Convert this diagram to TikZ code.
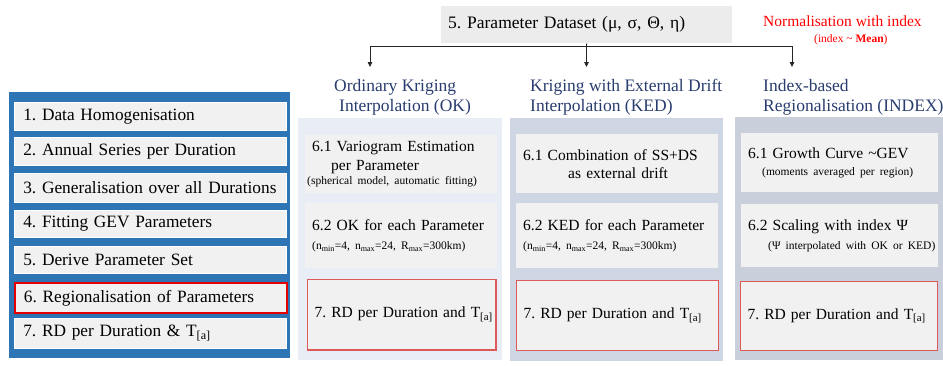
\documentclass[tikz,border=0pt]{standalone}
\usepackage{fontspec}
\setmainfont{Liberation Serif}
\usetikzlibrary{arrows.meta}
\definecolor{panelblue}{RGB}{46,117,182}
\definecolor{boxgray}{RGB}{241,241,241}
\definecolor{okpanel}{RGB}{233,238,246}
\definecolor{kedpanel}{RGB}{206,214,228}
\definecolor{idxpanel}{RGB}{201,207,219}
\definecolor{headblue}{RGB}{40,60,110}
\definecolor{softred}{RGB}{222,90,90}
\definecolor{topgray}{RGB}{236,236,236}
\newcommand{\mainsz}{\fontsize{15.5}{19}\selectfont}
\newcommand{\smallsz}{\fontsize{11.5}{14}\selectfont}
\newcommand{\oneline}[1]{\mbox{#1}}
\tikzset{
  lbox/.style={draw=white, line width=0.6pt, fill=boxgray, anchor=north west,
    inner xsep=9pt, inner ysep=0pt, text width=254pt, align=left,
    font=\fontsize{17.3}{21}\selectfont},
  mbox/.style={fill=boxgray, anchor=north west, inner xsep=7pt, inner ysep=0pt,
    align=left, font=\mainsz},
  rdbox/.style={mbox, draw=softred, line width=1pt},
  heading/.style={anchor=west, inner sep=0pt, align=left, text=headblue,
    font=\fontsize{17.5}{20}\selectfont},
  arr/.style={draw=black!85, line width=0.8pt, -{Triangle[length=5pt,width=4.5pt]}},
  conn/.style={draw=black!85, line width=0.8pt},
}
\begin{document}
\frenchspacing
\begin{tikzpicture}[x=1pt,y=-1pt]
\useasboundingbox (0,0) rectangle (943,365);
% left panel
\fill[panelblue] (9,92) rectangle (290,358);
\node[lbox, minimum height=28pt] (l1) at (14,102) {\oneline{1. Data Homogenisation}};
\node[lbox, minimum height=28pt] (l2) at (14,137) {\oneline{2. Annual Series per Duration}};
\node[lbox, minimum height=29pt] (l3) at (14,173) {\oneline{3. Generalisation over all Durations}};
\node[lbox, minimum height=27pt] (l4) at (14,210) {\oneline{4. Fitting GEV Parameters}};
\node[lbox, minimum height=27pt] (l5) at (14,246) {\oneline{5. Derive Parameter Set}};
\node[lbox, minimum height=30pt, draw=red!90!black, line width=1.8pt] (l6) at (14,282) {\oneline{6. Regionalisation of Parameters}};
\node[lbox, minimum height=30pt] (l7) at (14,318) {\oneline{7. RD per Duration \& T\textsubscript{[a]}}};
% top box
\node[fill=topgray, anchor=north west, inner xsep=7pt, inner ysep=0pt, text width=277pt,
  minimum height=37pt, align=left, font=\fontsize{17.5}{21}\selectfont] (top) at (441,6)
  {\oneline{5. Parameter Dataset (μ, σ, Θ, η)}};
% red note
\node[anchor=west, inner sep=0pt, align=left, text=red, font=\fontsize{15.5}{16}\selectfont] (note) at (763,30)
  {\oneline{Normalisation with index}\\ \oneline{\smallsz\hspace*{51pt}(index \textasciitilde{} \textbf{Mean})}};
% connectors
\coordinate (split) at (586.5,46);
\coordinate (aok) at (370,67);
\coordinate (aked) at (586.5,67);
\coordinate (aidx) at (792,67);
\draw[conn] (top.south) -- (split);
\draw[arr] (split) -| (aok);
\draw[arr] (split) -- (aked);
\draw[arr] (split) -| (aidx);
% headings
\node[heading] (hok) at (334,97) {\oneline{Ordinary Kriging}\\ \oneline{\hspace*{5pt}Interpolation (OK)}};
\node[heading] (hked) at (530,97) {\oneline{Kriging with External Drift}\\ \oneline{Interpolation (KED)}};
\node[heading] (hidx) at (763,97) {\oneline{Index-based}\\ \oneline{Regionalisation (INDEX)}};
% panels
\fill[okpanel] (298,118) rectangle (502,360);
\fill[kedpanel] (510,118) rectangle (723,361);
\fill[idxpanel] (735,117) rectangle (943,360);
% OK column
\node[mbox, text width=178pt, minimum height=58pt] (ok1) at (305,135)
  {\oneline{6.1 Variogram Estimation}\\ \oneline{\hspace*{19pt}per Parameter}\\[-5pt] \oneline{\smallsz\hspace*{-5pt}(spherical model, automatic fitting)}};
\node[mbox, text width=178pt, minimum height=65pt] (ok2) at (305,203)
  {\oneline{6.2 OK for each Parameter}\\ \oneline{\smallsz (n\textsubscript{min}=4, n\textsubscript{max}=24, R\textsubscript{max}=300km)}};
\node[rdbox, text width=174pt, minimum height=70pt] (ok3) at (307,279)
  {\oneline{7. RD per Duration and T\textsubscript{[a]}}};
\draw[softred, line width=1pt] (ok3.north west) rectangle (ok3.south east);
% KED column
\node[mbox, text width=188pt, minimum height=59pt] (ked1) at (516,134)
  {\oneline{6.1 Combination of SS+DS}\\[-1pt] \oneline{\hspace*{45pt}as external drift}};
\node[mbox, text width=188pt, minimum height=65pt] (ked2) at (516,203)
  {\oneline{6.2 KED for each Parameter}\\ \oneline{\smallsz (n\textsubscript{min}=4, n\textsubscript{max}=24, R\textsubscript{max}=300km)}};
\node[rdbox, text width=188pt, minimum height=70pt] (ked3) at (516,280)
  {\oneline{7. RD per Duration and T\textsubscript{[a]}}};
% INDEX column
\node[mbox, text width=183pt, minimum height=59pt] (idx1) at (741,133)
  {\oneline{6.1 Growth Curve \textasciitilde GEV}\\[-2pt] \oneline{\smallsz\hspace*{14pt}(moments averaged per region)}};
\node[mbox, text width=183pt, minimum height=63pt] (idx2) at (741,204)
  {\oneline{6.2 Scaling with index Ψ}\\ \oneline{\smallsz\hspace*{20pt}(Ψ interpolated with OK or KED)}};
\node[rdbox, text width=183pt, minimum height=69pt] (idx3) at (740,281)
  {\oneline{7. RD per Duration and T\textsubscript{[a]}}};
\end{tikzpicture}
\end{document}
